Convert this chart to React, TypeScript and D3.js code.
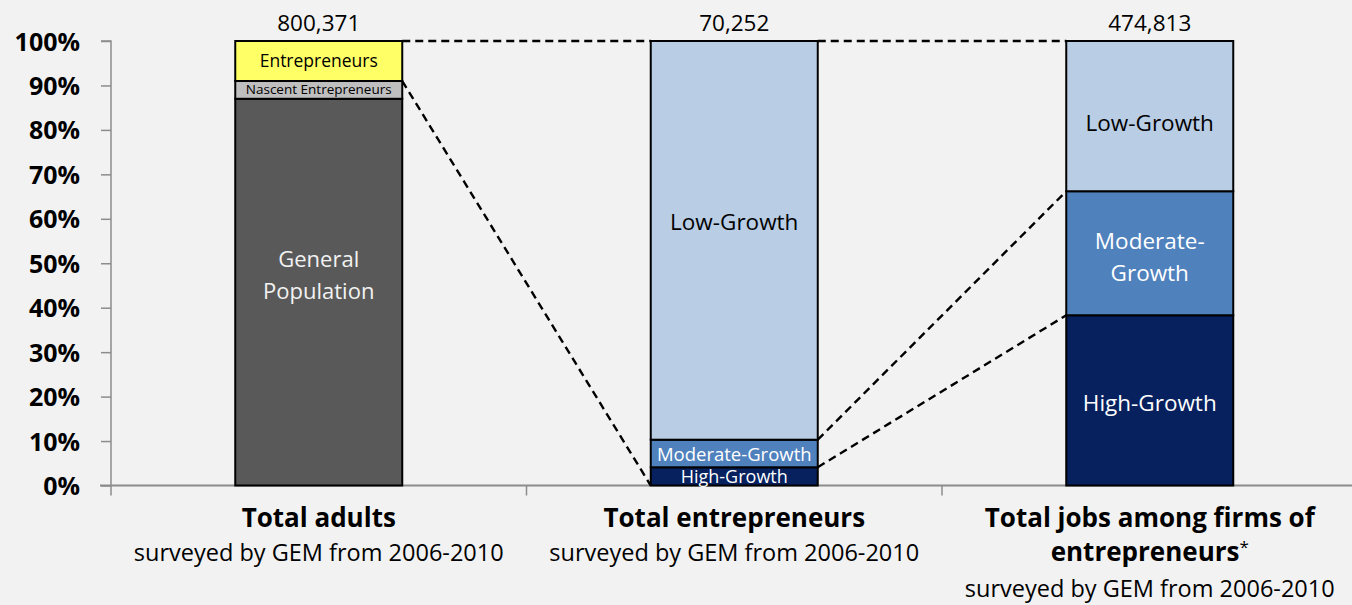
import React, { useRef, useEffect } from 'react';
import * as d3 from 'd3';

// stacked shares (%) per column, bottom to top
const categories = ['adults', 'entrepreneurs', 'jobs'];
const totals = ['800,371', '70,252', '474,813'];
const adultsSeg = [87, 4, 9];
const adultsNames = ['General Population', 'Nascent Entrepreneurs', 'Entrepreneurs'];
const entreSeg = [4.1, 6.2, 89.7];
const jobsSeg = [38.3, 27.9, 33.8];
const growthNames = ['High-Growth', 'Moderate-Growth', 'Low-Growth'];
const yTicks = [0, 10, 20, 30, 40, 50, 60, 70, 80, 90, 100];
const catTitles = [['Total adults'], ['Total entrepreneurs'], ['Total jobs among firms of', 'entrepreneurs']];
const subtitle = 'surveyed by GEM from 2006-2010';

function App() {
  const svgRef = useRef<SVGSVGElement>(null);

  useEffect(() => {
    const svg = d3.select(svgRef.current);
    svg.selectAll('*').remove();

    const width = 1352;
    const height = 605;
    const font = '"Open Sans", "Noto Sans", sans-serif';

    svg.append('rect').attr('width', width).attr('height', height).attr('fill', '#f2f2f2');

    const x = d3.scaleBand().domain(categories).range([111, 1357.5]).paddingInner(0).paddingOuter(0);
    const y = d3.scaleLinear().domain([0, 100]).range([485.5, 41]);
    const bw = 167;
    const bx = (c) => x(c) + x.bandwidth() / 2 - bw / 2;

    // y axis
    const yAxis = svg.append('g')
      .attr('transform', 'translate(111,0)')
      .call(d3.axisLeft(y).tickValues(yTicks).tickSize(10).tickFormat(d => d + '%'));
    yAxis.select('.domain').attr('stroke', '#8c8c8c').attr('stroke-width', 1.5).attr('d', 'M-10,41H0V485.5');
    yAxis.selectAll('.tick line').attr('stroke', '#8c8c8c').attr('stroke-width', 1.5);
    yAxis.selectAll('.tick text')
      .attr('x', -31)
      .attr('dy', '0.36em')
      .attr('font-family', font)
      .attr('font-weight', 'bold')
      .attr('font-size', 25)
      .attr('fill', '#000');

    // x axis
    const xAxisG = svg.append('g');
    xAxisG.append('line')
      .attr('x1', 100).attr('x2', width).attr('y1', y(0)).attr('y2', y(0))
      .attr('stroke', '#8c8c8c').attr('stroke-width', 2);
    xAxisG.selectAll('line.t')
      .data(categories)
      .join('line')
      .attr('class', 't')
      .attr('x1', d => x(d)).attr('x2', d => x(d))
      .attr('y1', y(0)).attr('y2', y(0) + 10)
      .attr('stroke', '#8c8c8c').attr('stroke-width', 1.5);

    const stack = (vals) => {
      let acc = 0;
      return vals.map(v => { const s = { y0: acc, y1: acc + v }; acc += v; return s; });
    };

    const columns = [
      { cat: 'adults', segs: stack(adultsSeg), names: adultsNames, fills: ['#595959', '#bfbfbf', '#ffff66'] },
      { cat: 'entrepreneurs', segs: stack(entreSeg), names: growthNames, fills: ['#06215e', '#4f81bd', '#b9cde5'] },
      { cat: 'jobs', segs: stack(jobsSeg), names: growthNames, fills: ['#06215e', '#4f81bd', '#b9cde5'] },
    ];

    // dashed connectors
    const conn = [
      [columns[0].cat, 100, columns[1].cat, 100],
      [columns[1].cat, 100, columns[2].cat, 100],
      [columns[0].cat, columns[0].segs[1].y1, columns[1].cat, 0],
      [columns[1].cat, columns[1].segs[1].y1, columns[2].cat, columns[2].segs[1].y1],
      [columns[1].cat, columns[1].segs[0].y1, columns[2].cat, columns[2].segs[0].y1],
    ];
    svg.append('g')
      .selectAll('line')
      .data(conn)
      .join('line')
      .attr('x1', d => bx(d[0]) + bw)
      .attr('y1', d => y(d[1]))
      .attr('x2', d => bx(d[2]))
      .attr('y2', d => y(d[3]))
      .attr('stroke', '#000')
      .attr('stroke-width', 2.4)
      .attr('stroke-dasharray', '8,5');

    // bars
    columns.forEach(col => {
      const g = svg.append('g');
      g.selectAll('rect')
        .data(col.segs)
        .join('rect')
        .attr('x', bx(col.cat))
        .attr('y', d => y(d.y1))
        .attr('width', bw)
        .attr('height', d => y(d.y0) - y(d.y1))
        .attr('fill', (d, i) => col.fills[i])
        .attr('stroke', '#000')
        .attr('stroke-width', 2);
    });

    const cx = (c) => x(c) + x.bandwidth() / 2;
    const label = (c, yy, txt, size, fill) =>
      svg.append('text')
        .attr('x', cx(c)).attr('y', yy)
        .attr('text-anchor', 'middle')
        .attr('font-family', font)
        .attr('font-size', size)
        .attr('fill', fill)
        .text(txt);

    // in-bar labels
    const a = columns[0];
    label(a.cat, 267, 'General', 22, '#f2f2f2');
    label(a.cat, 299, 'Population', 22, '#f2f2f2');
    label(a.cat, (y(a.segs[1].y0) + y(a.segs[1].y1)) / 2 + 4.5, a.names[1], 13.5, '#000');
    label(a.cat, (y(a.segs[2].y0) + y(a.segs[2].y1)) / 2 + 6, a.names[2], 17.5, '#000');

    const b = columns[1];
    label(b.cat, 230, b.names[2], 22.5, '#000');
    label(b.cat, (y(b.segs[1].y0) + y(b.segs[1].y1)) / 2 + 7.5, b.names[1], 18.5, '#fff');
    label(b.cat, 483, b.names[0], 18, '#fff');

    const c = columns[2];
    label(c.cat, (y(c.segs[2].y0) + y(c.segs[2].y1)) / 2 + 15, c.names[2], 22.5, '#000');
    label(c.cat, (y(c.segs[1].y0) + y(c.segs[1].y1)) / 2 - 4, 'Moderate-', 22.5, '#fff');
    label(c.cat, (y(c.segs[1].y0) + y(c.segs[1].y1)) / 2 + 28, 'Growth', 22.5, '#fff');
    label(c.cat, (y(c.segs[0].y0) + y(c.segs[0].y1)) / 2 + 11, c.names[0], 22.5, '#fff');

    // totals above bars
    categories.forEach((cat, i) => label(cat, 31, totals[i], 22.5, '#000'));

    // category labels
    categories.forEach((cat, i) => {
      const lines = catTitles[i];
      lines.forEach((t, j) => {
        const tx = label(cat, 527 + j * 34, t, 26, '#000').attr('font-weight', 'bold');
        if (i === 2 && j === 1) {
          tx.append('tspan').attr('font-weight', 'normal').attr('font-size', 17).attr('dy', -8).text('*');
        }
      });
      label(cat, 561 + (lines.length - 1) * 36, subtitle, 23.5, '#000');
    });
  }, []);

  return <svg ref={svgRef} width={1352} height={605} style={{ display: 'block', position: 'absolute', left: 0, top: 0 }}></svg>;
}

export default App;
